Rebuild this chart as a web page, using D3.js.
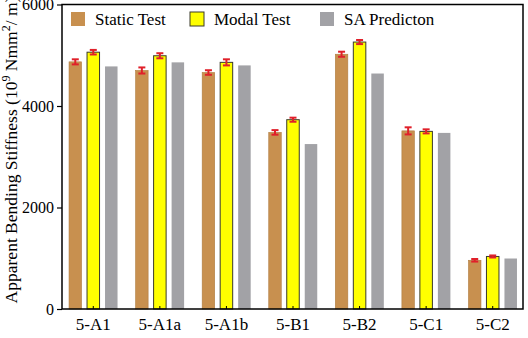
<!DOCTYPE html>
<html>
<head>
<meta charset="utf-8">
<script src="https://cdn.jsdelivr.net/npm/d3@7"></script>
<style>
  body { margin: 0; background: #fff; }
  svg { display: block; font-family: "Liberation Serif", "Times New Roman", serif; }
</style>
</head>
<body>
<svg width="528" height="338"></svg>
<script>
const categories = ['5-A1', '5-A1a', '5-A1b', '5-B1', '5-B2', '5-C1', '5-C2'];
const seriesNames = ['Static Test', 'Modal Test', 'SA Predicton'];
const staticTest = [4870, 4700, 4660, 3480, 5020, 3510, 960];
const staticErr = [50, 60, 45, 45, 50, 70, 25];
const modalTest = [5060, 4990, 4860, 3730, 5260, 3500, 1035];
const modalErr = [45, 50, 60, 40, 40, 40, 20];
const saPrediction = [4780, 4860, 4800, 3250, 4640, 3470, 995];
const yTicks = [0, 2000, 4000, 6000];

const colors = ['#c8904f', '#ffff00', '#a2a2a6'];

const svg = d3.select('svg');
const plotLeft = 62, plotRight = 523, plotTop = 4.5, plotBottom = 309;

const x0 = d3.scaleBand().domain(categories).range([60, 526]);
const x1 = d3.scaleBand().domain(seriesNames).range([0, 48.5]).paddingInner(0.305);
const y = d3.scaleLinear().domain([0, 6000]).range([plotBottom, plotTop]);
const groupOffset = x0.bandwidth() / 2 - 24.25;

const values = [staticTest, modalTest, saPrediction];
const errors = [staticErr, modalErr, null];

const rows = [];
categories.forEach((c, i) => {
    seriesNames.forEach((s, j) => {
        rows.push({ cat: c, series: s, idx: j, value: values[j][i], err: errors[j] ? errors[j][i] : null });
    });
});

// bars
svg.append('g')
    .selectAll('rect')
    .data(rows)
    .enter()
    .append('rect')
    .attr('x', d => x0(d.cat) + groupOffset + x1(d.series))
    .attr('y', d => y(d.value))
    .attr('width', x1.bandwidth())
    .attr('height', d => y(0) - y(d.value))
    .attr('fill', d => colors[d.idx])
    .attr('stroke', d => d.idx === 1 ? '#3a3a2a' : (d.idx === 0 ? '#b07c40' : 'none'))
    .attr('stroke-width', d => d.idx === 1 ? 1 : 0.6);

// error bars
const eb = svg.append('g')
    .attr('stroke', '#e0202a')
    .attr('stroke-width', 2)
    .selectAll('g')
    .data(rows.filter(d => d.err !== null))
    .enter()
    .append('g')
    .attr('transform', d => `translate(${x0(d.cat) + groupOffset + x1(d.series) + x1.bandwidth() / 2},0)`);
eb.append('line')
    .attr('y1', d => y(d.value - d.err))
    .attr('y2', d => y(d.value + d.err));
eb.append('line')
    .attr('x1', -3.5).attr('x2', 3.5)
    .attr('y1', d => y(d.value + d.err))
    .attr('y2', d => y(d.value + d.err));
eb.append('line')
    .attr('x1', -3.5).attr('x2', 3.5)
    .attr('y1', d => y(d.value - d.err))
    .attr('y2', d => y(d.value - d.err));

// frame
svg.append('rect')
    .attr('x', plotLeft).attr('y', plotTop)
    .attr('width', plotRight - plotLeft).attr('height', plotBottom - plotTop)
    .attr('fill', 'none')
    .attr('stroke', '#000')
    .attr('stroke-width', 1.5);

// y axis
const yAxis = svg.append('g')
    .attr('transform', `translate(${plotLeft},0)`)
    .call(d3.axisLeft(y).tickValues(yTicks).tickSize(5).tickPadding(3).tickFormat(d3.format('d')));
yAxis.select('.domain').remove();
yAxis.selectAll('line').attr('stroke', '#000').attr('stroke-width', 1.2);
yAxis.selectAll('text').attr('font-size', 16).attr('fill', '#000').attr('font-family', '"Liberation Serif", serif');

// x axis
const xAxis = svg.append('g')
    .attr('transform', `translate(0,${plotBottom})`)
    .call(d3.axisBottom(x0).tickSize(-3).tickPadding(9));
xAxis.select('.domain').remove();
xAxis.selectAll('line').attr('stroke', '#000').attr('stroke-width', 1);
xAxis.selectAll('text').attr('font-size', 17).attr('fill', '#000').attr('font-family', '"Liberation Serif", serif');

// y label
const yl = svg.append('text')
    .attr('transform', 'translate(17,150) rotate(-90)')
    .attr('text-anchor', 'middle')
    .attr('font-size', 17.5)
    .attr('fill', '#000');
yl.append('tspan').text('Apparent Bending Stiffness (10');
yl.append('tspan').attr('font-size', 12).attr('dy', -7).text('9');
yl.append('tspan').attr('dy', 7).text(' Nmm');
yl.append('tspan').attr('font-size', 12).attr('dy', -7).text('2');
yl.append('tspan').attr('dy', 7).text('/ m)');

// legend
const legendX = [71, 190, 320];
const legend = svg.append('g')
    .selectAll('g')
    .data(seriesNames)
    .enter()
    .append('g')
    .attr('transform', (d, i) => `translate(${legendX[i]},12)`);
legend.append('rect')
    .attr('width', 14).attr('height', 14)
    .attr('fill', (d, i) => colors[i])
    .attr('stroke', (d, i) => i === 1 ? '#3a3a2a' : 'none');
legend.append('text')
    .attr('x', 24).attr('y', 12.5)
    .attr('font-size', 17)
    .attr('fill', '#000')
    .text(d => d);
</script>
</body>
</html>
